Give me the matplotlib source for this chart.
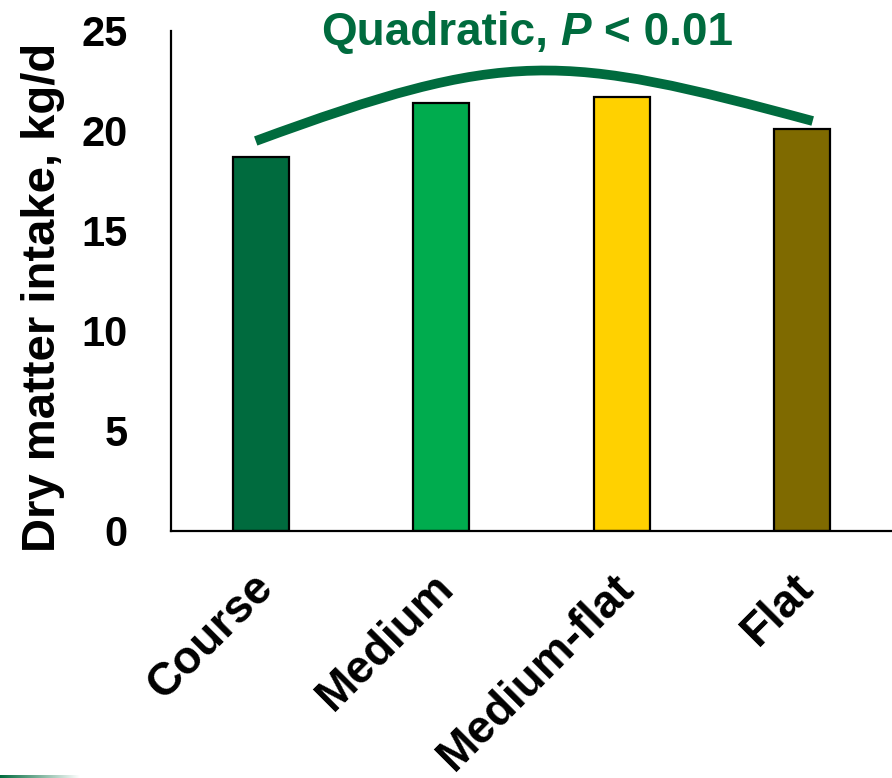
import numpy as np
import matplotlib
matplotlib.use("Agg")
import matplotlib.pyplot as plt
from matplotlib.path import Path
from matplotlib.patches import PathPatch
from matplotlib.transforms import ScaledTranslation
from matplotlib.colors import LinearSegmentedColormap

plt.rcParams["font.family"] = ["Liberation Sans", "DejaVu Sans"]

# Dry matter intake by shape category
categories = ["Course", "Medium", "Medium-flat", "Flat"]
dmi = [18.7, 21.4, 21.7, 20.1]
bar_colors = ["#006B3E", "#00AC4E", "#FFD100", "#7F6A00"]
yticks = [0, 5, 10, 15, 20, 25]

# Quadratic trend drawn as a cubic Bezier (control points, data units)
trend_x = [-0.03, 1.37, 1.66, 3.06]
trend_y = [19.5, 24.15, 23.9, 20.5]

green = "#006B3E"

fig = plt.figure(figsize=(8.92, 7.78), dpi=100)
ax = fig.add_axes([171 / 892, 1 - 531 / 778, 1 - 171 / 892, 500 / 778])

x = np.arange(len(categories))
ax.bar(x, dmi, width=0.31, color=bar_colors, edgecolor="black",
       linewidth=1.6, zorder=2)

ax.set_xlim(-0.5, 3.5)
ax.set_ylim(0, 25)
for side in ("top", "right"):
    ax.spines[side].set_visible(False)
for side in ("left", "bottom"):
    ax.spines[side].set_linewidth(1.6)
    ax.spines[side].set_color("black")

ax.set_yticks(yticks)
ax.set_yticklabels([str(v) for v in yticks], fontsize=30, fontweight="bold")
ax.tick_params(axis="y", length=0, pad=31)

ax.set_xticks(x)
ax.set_xticklabels(categories, rotation=45, ha="right", va="baseline",
                   rotation_mode="anchor", fontsize=33, fontweight="bold")
ax.tick_params(axis="x", length=0, pad=42)
shift = ScaledTranslation(14 / 100, 0, fig.dpi_scale_trans)
for lbl in ax.get_xticklabels():
    lbl.set_transform(lbl.get_transform() + shift)

fig.text(43 / 892, 1 - 297 / 778, "Dry matter intake, kg/d", rotation=90,
         ha="center", va="center", fontsize=34, fontweight="bold")

# Trend curve
verts = list(zip(trend_x, trend_y))
codes = [Path.MOVETO, Path.CURVE4, Path.CURVE4, Path.CURVE4]
curve = PathPatch(Path(verts, codes), facecolor="none", edgecolor=green,
                  linewidth=7, capstyle="butt", clip_on=False, zorder=3)
ax.add_patch(curve)

# Title with italic P
t1 = fig.text(321 / 892, 1 - 45 / 778, "Quadratic,", fontsize=33,
              fontweight="bold", color=green, va="baseline")
t2 = ax.annotate("P", xy=(1, 0), xycoords=t1, xytext=(9, 0),
                 textcoords="offset points", fontsize=33, fontweight="bold",
                 fontstyle="italic", color=green, va="bottom", ha="left",
                 annotation_clip=False)
t3 = ax.annotate("< 0.01", xy=(1, 0), xycoords=t2, xytext=(9, 0),
                 textcoords="offset points", fontsize=33, fontweight="bold",
                 color=green, va="bottom", ha="left", annotation_clip=False)

# Decorative strip in the lower-left corner
strip = fig.add_axes([0, 0, 80 / 892, 3 / 778])
cmap = LinearSegmentedColormap.from_list("strip", [green, "#ffffff"])
strip.imshow(np.linspace(0, 1, 200)[None, :], aspect="auto", cmap=cmap)
strip.set_axis_off()

fig.savefig("out.png", dpi=100)
